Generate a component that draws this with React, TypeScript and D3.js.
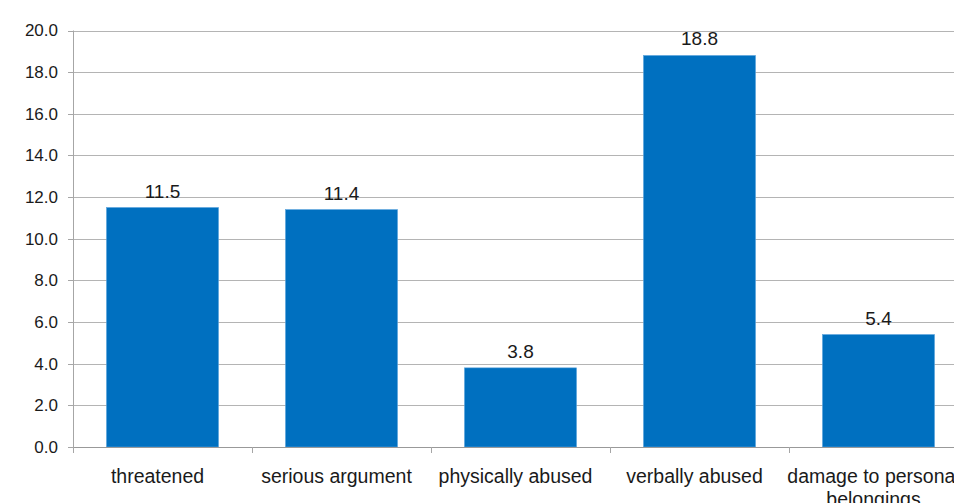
import React, { useEffect, useRef } from "react";
import * as d3 from "d3";

const categories: string[] = [
  "threatened",
  "serious argument",
  "physically abused",
  "verbally abused",
  "damage to personal belongings",
];
const values: number[] = [11.5, 11.4, 3.8, 18.8, 5.4];
const yTicks: number[] = [0, 2, 4, 6, 8, 10, 12, 14, 16, 18, 20];

const W = 954;
const H = 503;
const left = 73;
const top = 30.5;
const bottom = 447;
const right = 968;

export default function App() {
  const ref = useRef<SVGSVGElement | null>(null);

  useEffect(() => {
    const svg = d3.select(ref.current);
    svg.selectAll("*").remove();
    const font = "'Liberation Sans', Arial, sans-serif";

    const x = d3
      .scaleBand<string>()
      .domain(categories)
      .range([left, right])
      .paddingInner(0.374)
      .paddingOuter(0.187);
    const y = d3.scaleLinear().domain([0, 20]).range([bottom, top]);
    const step = x.step();

    // gridlines
    svg
      .append("g")
      .selectAll("line")
      .data(yTicks.filter((t) => t > 0))
      .join("line")
      .attr("x1", left)
      .attr("x2", W)
      .attr("y1", (d) => Math.round(y(d)) + 0.5)
      .attr("y2", (d) => Math.round(y(d)) + 0.5)
      .attr("stroke", "#b4b4b4")
      .attr("stroke-width", 1);

    // y tick marks
    svg
      .append("g")
      .selectAll("line")
      .data(yTicks)
      .join("line")
      .attr("x1", left - 5)
      .attr("x2", left)
      .attr("y1", (d) => Math.round(y(d)) + 0.5)
      .attr("y2", (d) => Math.round(y(d)) + 0.5)
      .attr("stroke", "#a6a6a6");

    // y tick labels
    svg
      .append("g")
      .selectAll("text")
      .data(yTicks)
      .join("text")
      .attr("x", 58)
      .attr("y", (d) => y(d))
      .attr("dy", "0.35em")
      .attr("text-anchor", "end")
      .attr("font-family", font)
      .attr("font-size", 17)
      .attr("fill", "#1a1a1a")
      .text((d) => d.toFixed(1));

    // bars
    svg
      .append("g")
      .selectAll("rect")
      .data(values)
      .join("rect")
      .attr("x", (_, i) => x(categories[i]) as number)
      .attr("y", (d) => y(d))
      .attr("width", x.bandwidth())
      .attr("height", (d) => bottom - y(d))
      .attr("fill", "#0070C0")
      .attr("stroke", "#5aa3dc")
      .attr("stroke-width", 0.6);

    // value labels
    svg
      .append("g")
      .selectAll("text")
      .data(values)
      .join("text")
      .attr("x", (_, i) => (x(categories[i]) as number) + x.bandwidth() / 2)
      .attr("y", (d) => y(d) - 10)
      .attr("text-anchor", "middle")
      .attr("font-family", font)
      .attr("font-size", 19)
      .attr("fill", "#1a1a1a")
      .text((d) => d.toFixed(1));

    // x axis line
    svg
      .append("line")
      .attr("x1", left)
      .attr("x2", W)
      .attr("y1", bottom + 0.5)
      .attr("y2", bottom + 0.5)
      .attr("stroke", "#999999");
    // y axis line
    svg
      .append("line")
      .attr("x1", left + 0.5)
      .attr("x2", left + 0.5)
      .attr("y1", top)
      .attr("y2", bottom + 5)
      .attr("stroke", "#a6a6a6");

    // x tick marks at category boundaries
    const bounds = d3.range(categories.length + 1).map((i) => left + i * step);
    svg
      .append("g")
      .selectAll("line")
      .data(bounds)
      .join("line")
      .attr("x1", (d) => Math.round(d) + 0.5)
      .attr("x2", (d) => Math.round(d) + 0.5)
      .attr("y1", bottom)
      .attr("y2", bottom + 6)
      .attr("stroke", "#a6a6a6");

    // category labels with wrapping
    const labels = svg
      .append("g")
      .selectAll("text")
      .data(categories)
      .join("text")
      .attr("font-family", font)
      .attr("font-size", 19.5)
      .attr("fill", "#1a1a1a")
      .attr("text-anchor", "middle");
    labels.each(function (d) {
      const t = d3.select(this);
      const cx = (x(d) as number) + x.bandwidth() / 2 - 5;
      const words = d.split(" ");
      const lines: string[] = [];
      let cur: string[] = [];
      const ts = t.append("tspan").attr("x", cx).attr("y", 483);
      for (const w of words) {
        cur.push(w);
        ts.text(cur.join(" "));
        if ((ts.node() as SVGTSpanElement).getComputedTextLength() > step + 4 && cur.length > 1) {
          cur.pop();
          lines.push(cur.join(" "));
          cur = [w];
        }
      }
      lines.push(cur.join(" "));
      ts.remove();
      lines.forEach((ln, i) => {
        t.append("tspan")
          .attr("x", cx)
          .attr("y", 483 + i * 23)
          .text(ln);
      });
    });
  }, []);

  return (
    <svg
      ref={ref}
      width={W}
      height={H}
      style={{ position: "absolute", left: 0, top: 0, background: "#fff" }}
    />
  );
}
